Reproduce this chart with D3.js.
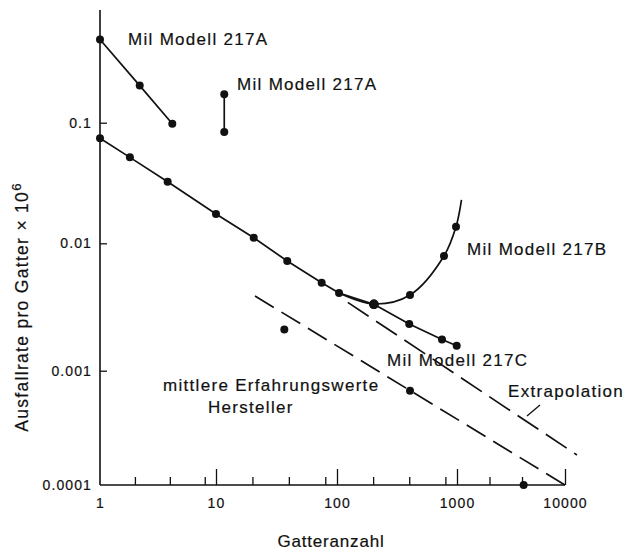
<!DOCTYPE html>
<html>
<head>
<meta charset="utf-8">
<script src="https://cdn.jsdelivr.net/npm/d3@7"></script>
<style>
  body { margin: 0; background: #fff; }
  text { font-family: "Liberation Sans", Arial, Helvetica, sans-serif; fill: #111; stroke: #111; stroke-width: 0.2; }
</style>
</head>
<body>
<script>
// data (gate count vs failure rate per gate x 10^6)
var gatesA1 = [1, 2.2, 4.2];
var ratesA1 = [0.49, 0.203, 0.098];

var gatesA2 = [11.7, 11.7];
var ratesA2 = [0.172, 0.0837];

var gatesMain = [1, 1.81, 3.83, 10, 20.5, 38.8, 74.7, 104, 203];
var ratesMain = [0.0742, 0.0516, 0.0324, 0.0175, 0.0111, 0.00726, 0.00491, 0.00407, 0.00332];

var gatesB = [104, 203, 406, 779, 981, 1100];
var ratesB = [0.00407, 0.00334, 0.00393, 0.00795, 0.0137, 0.0229];
var dotsB = [406, 779, 981];

var gatesC = [203, 400, 750, 994];
var ratesC = [0.00332, 0.00233, 0.00176, 0.00157];

var gatesExtra = [123, 12900];
var ratesExtra = [0.00344, 0.000183];

var gatesHerst = [21, 10000];
var ratesHerst = [0.00386, 0.0001];
var dotGatesHerst = [36.7, 406, 4140];
var dotRatesHerst = [0.00211, 0.000668, 0.0001];

var xMajor = [10, 100, 1000, 10000];
var xLabels = [1, 10, 100, 1000, 10000];
var xMinor = [2, 4, 8, 20, 40, 80, 200, 400, 800, 2000, 4000];
var yTicks = [0.1, 0.01, 0.001];
var yLabels = [0.1, 0.01, 0.001, 0.0001];

var svg = d3.select('body').append('svg')
  .attr('width', 627)
  .attr('height', 550);

// the paper's decades are not quite even, so map each one
var x = d3.scaleLog()
  .domain([1, 10, 100, 1000, 10000])
  .range([100, 216, 337, 457, 565]);

var y = d3.scaleLog()
  .domain([0.0001, 0.001, 0.01, 0.1])
  .range([485, 370.7, 243.3, 122.7]);

var zip = function(a, b) { return a.map(function(v, i) { return [v, b[i]]; }); };

var line = d3.line()
  .x(function(d) { return x(d[0]); })
  .y(function(d) { return y(d[1]); });

// axes
svg.append('line')
  .attr('x1', x(1)).attr('x2', x(1))
  .attr('y1', y(0.0001)).attr('y2', y(0.86))
  .attr('stroke', '#111').attr('stroke-width', 1.6);

svg.append('line')
  .attr('x1', x(1)).attr('x2', x(10000))
  .attr('y1', y(0.0001)).attr('y2', y(0.0001))
  .attr('stroke', '#111').attr('stroke-width', 1.6);

var fmt = function(d) { return String(d); };

var xMaj = svg.append('g')
  .attr('transform', 'translate(0,' + y(0.0001) + ')')
  .call(d3.axisBottom(x).tickValues(xMajor).tickSize(-16).tickFormat(''));
var xMin = svg.append('g')
  .attr('transform', 'translate(0,' + y(0.0001) + ')')
  .call(d3.axisBottom(x).tickValues(xMinor).tickSize(-8).tickFormat(''));
var xLab = svg.append('g')
  .attr('transform', 'translate(0,' + y(0.0001) + ')')
  .call(d3.axisBottom(x).tickValues(xLabels).tickSize(0).tickPadding(13).tickFormat(fmt));

var yAx = svg.append('g')
  .attr('transform', 'translate(' + x(1) + ',0)')
  .call(d3.axisLeft(y).tickValues(yTicks).tickSize(-7).tickFormat(''));
var yLab = svg.append('g')
  .attr('transform', 'translate(' + x(1) + ',0)')
  .call(d3.axisLeft(y).tickValues(yLabels).tickSize(0).tickPadding(8).tickFormat(fmt));

[xMaj, xMin, xLab, yAx, yLab].forEach(function(g) {
  g.select('.domain').remove();
  g.selectAll('line').attr('stroke', '#111').attr('stroke-width', 1.3);
  g.selectAll('text')
    .attr('font-family', '"Liberation Sans", Arial, sans-serif')
    .attr('font-size', 14)
    .attr('letter-spacing', 1.1)
    .attr('fill', '#111');
});

// solid lines
[[gatesA1, ratesA1], [gatesA2, ratesA2], [gatesMain, ratesMain], [gatesC, ratesC]].forEach(function(s) {
  svg.append('path')
    .datum(zip(s[0], s[1]))
    .attr('d', line)
    .attr('fill', 'none')
    .attr('stroke', '#111')
    .attr('stroke-width', 1.7);
});

// 217B curve
svg.append('path')
  .datum(zip(gatesB, ratesB))
  .attr('d', line.curve(d3.curveCatmullRom.alpha(0.5)))
  .attr('fill', 'none')
  .attr('stroke', '#111')
  .attr('stroke-width', 1.7);
line.curve(d3.curveLinear);

// dashed lines
svg.append('path')
  .datum(zip(gatesExtra, ratesExtra))
  .attr('d', line)
  .attr('fill', 'none')
  .attr('stroke', '#111')
  .attr('stroke-width', 1.7)
  .attr('stroke-dasharray', '25,9');

svg.append('path')
  .datum(zip(gatesHerst, ratesHerst))
  .attr('d', line)
  .attr('fill', 'none')
  .attr('stroke', '#111')
  .attr('stroke-width', 1.7)
  .attr('stroke-dasharray', '22,9');

// dots
var dots = zip(gatesA1, ratesA1)
  .concat(zip(gatesA2, ratesA2))
  .concat(zip(gatesMain, ratesMain))
  .concat(zip(gatesC, ratesC))
  .concat(zip(gatesB, ratesB).filter(function(d) { return dotsB.indexOf(d[0]) >= 0; }))
  .concat(zip(dotGatesHerst, dotRatesHerst));

svg.selectAll('circle.dot')
  .data(dots)
  .enter()
  .append('circle')
  .attr('class', 'dot')
  .attr('cx', function(d) { return x(d[0]); })
  .attr('cy', function(d) { return y(d[1]); })
  .attr('r', function(d) { return d[0] === 203 ? 4.8 : 4; })
  .attr('fill', '#111');

// labels
var labels = [
  { t: 'Mil Modell 217A', x: 128, y: 45 },
  { t: 'Mil Modell 217A', x: 237, y: 90 },
  { t: 'Mil Modell 217B', x: 467, y: 255 },
  { t: 'Mil Modell 217C', x: 387, y: 366 },
  { t: 'Extrapolation', x: 508, y: 397 },
  { t: 'mittlere Erfahrungswerte', x: 163, y: 391 },
  { t: 'Hersteller', x: 208, y: 413 }
];

svg.selectAll('text.lab')
  .data(labels)
  .enter()
  .append('text')
  .attr('class', 'lab')
  .attr('x', function(d) { return d.x; })
  .attr('y', function(d) { return d.y; })
  .attr('font-size', 17)
  .attr('letter-spacing', 1.3)
  .text(function(d) { return d.t; });

// pointer from Extrapolation label
svg.append('line')
  .attr('x1', 540).attr('y1', 405)
  .attr('x2', 527).attr('y2', 416)
  .attr('stroke', '#111').attr('stroke-width', 1.3);

svg.append('text')
  .attr('x', 331)
  .attr('y', 547)
  .attr('text-anchor', 'middle')
  .attr('font-size', 17)
  .attr('letter-spacing', 0.8)
  .text('Gatteranzahl');

var yt = svg.append('text')
  .attr('transform', 'translate(28,307) rotate(-90)')
  .attr('text-anchor', 'middle')
  .attr('font-size', 17.5)
  .attr('letter-spacing', 1.3);
yt.append('tspan').text('Ausfallrate pro Gatter \u00d7 10');
yt.append('tspan').attr('dy', -7).attr('font-size', 13).text('6');
</script>
</body>
</html>
